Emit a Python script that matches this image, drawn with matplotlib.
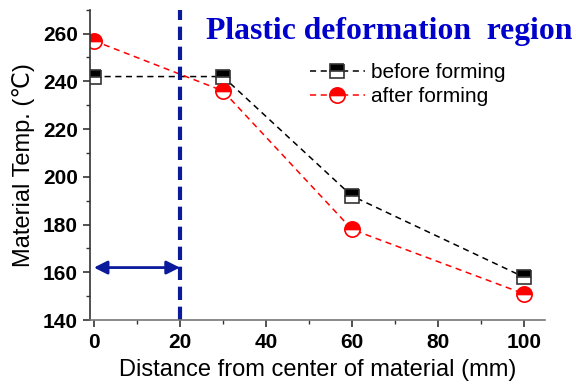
import matplotlib
matplotlib.use("Agg")
import matplotlib.pyplot as plt
from matplotlib.ticker import MultipleLocator

plt.rcParams['font.family'] = ['Liberation Sans', 'DejaVu Sans']

distance = [0, 30, 60, 100]
before_forming = [242, 242, 192, 158]
after_forming = [257, 236, 178, 151]
region_boundary = 20
arrow_y = 162

fig = plt.figure(figsize=(5.76, 3.88), dpi=100)
ax = fig.add_axes([0.157, 0.175, 0.79, 0.80])

ax.plot(distance, before_forming, ls=(0, (4, 3)), color='black', lw=1.1,
        marker='s', ms=10, mfc='black', mfcalt='white', fillstyle='top',
        mec='#333333', mew=1.2, label='before forming')
ax.plot(distance, after_forming, ls=(0, (4, 3)), color='red', lw=1.1,
        marker='o', ms=11, mfc='red', mfcalt='white', fillstyle='top',
        mec='red', mew=1.2, label='after forming')

ax.axvline(region_boundary, color='#0a1a9a', lw=3, ls=(0, (3.2, 1.6)))
ax.annotate('', xy=(region_boundary, arrow_y), xytext=(0, arrow_y),
            arrowprops=dict(arrowstyle='<|-|>', color='#0a1a9a', lw=2,
                            mutation_scale=20, shrinkA=0, shrinkB=0))

fig.text(0.993, 0.918, 'Plastic deformation  region',
         ha='right', va='center', color='#0000cc', fontsize=22.8, fontweight='bold',
         family='Liberation Serif')

ax.set_xlim(-0.8, 105)
ax.set_ylim(140, 270)
ax.xaxis.set_major_locator(MultipleLocator(20))
ax.xaxis.set_minor_locator(MultipleLocator(10))
ax.yaxis.set_minor_locator(MultipleLocator(10))
ax.set_yticks([140, 160, 180, 200, 220, 240, 260])

for s in ['top', 'right']:
    ax.spines[s].set_visible(False)
ax.spines['left'].set_color('#333333')
ax.spines['bottom'].set_color('#777777')
ax.spines['left'].set_linewidth(1.2)
ax.spines['bottom'].set_linewidth(1.2)

ax.tick_params(which='major', direction='out', length=5, width=1.2, labelsize=15,
               colors='#333333', labelcolor='black', pad=4)
ax.tick_params(which='minor', direction='out', length=3, width=1.0, colors='#333333')
for lab in ax.get_xticklabels() + ax.get_yticklabels():
    lab.set_fontweight('bold')

ax.set_xlabel('Distance from center of material (mm)', fontsize=17, labelpad=5)
ax.set_ylabel('Material Temp. (℃)', fontsize=17, labelpad=6)

ax.legend(loc='upper left', bbox_to_anchor=(0.465, 0.855), frameon=False,
          fontsize=15, handlelength=2.6, handletextpad=0.3, labelspacing=0.25,
          borderaxespad=0)

fig.savefig('out.png', dpi=100)
